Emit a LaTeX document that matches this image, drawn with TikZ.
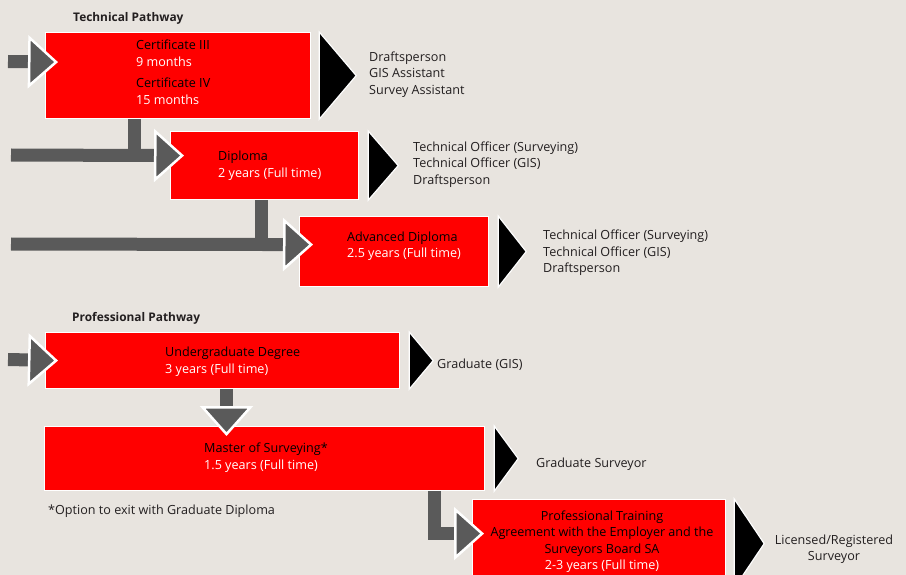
\documentclass[tikz,border=0pt]{standalone}
\usepackage{fontspec}
\setmainfont{Open Sans}
\usetikzlibrary{arrows.meta,positioning}
\definecolor{paper}{HTML}{E8E4DF}
\definecolor{pathred}{HTML}{FF0000}
\definecolor{flowgray}{HTML}{5A5A5A}
\definecolor{ink}{HTML}{231F20}
\begin{document}
\begin{tikzpicture}[x=1pt, y=-1pt, font=\fontsize{12.6}{16.5}\selectfont, text=ink]
    \tikzstyle{course} = [rectangle, draw=white, line width=1.2pt, fill=pathred, anchor=north west, inner sep=0pt]
    \tikzstyle{coursetext} = [anchor=west, align=left, inner sep=0pt, text=black]
    \tikzstyle{outcome} = [anchor=west, align=left, inner sep=0pt]
    \tikzstyle{heading} = [anchor=west, inner sep=0pt, font=\fontsize{11.9}{14}\selectfont\bfseries]
    \tikzstyle{exitmark} = [fill=black, draw=white, line width=1.2pt]
    \tikzstyle{shaft} = [draw=flowgray, line width=13pt]
    \tikzstyle{flow} = [shaft, -{Triangle[length=30pt 0 0, width=53pt 0 0, fill=flowgray, color=white, line width=2.5pt 0 0]}]

    \fill[paper] (0,0) rectangle (906,575);
    \useasboundingbox (0,0) rectangle (906,575);

    % Technical pathway
    \node [heading] (tech head) at (73,18) {Technical Pathway};
    \node [course, minimum width=265pt, minimum height=86pt] (cert) at (45,32) {};
    \node [course, minimum width=188pt, minimum height=68pt] (diploma) at (170,131) {};
    \node [course, minimum width=189pt, minimum height=70pt] (adv) at (299,216) {};

    \node [coursetext] (cert txt) at (136,72) {Certificate III\\\textcolor{white}{9 months}\\[5pt]Certificate IV\\\textcolor{white}{15 months}};
    \node [coursetext] (diploma txt) at (218,165.5) {Diploma\\\textcolor{white}{2 years (Full time)}};
    \node [coursetext] (adv txt) at (347,246) {Advanced Diploma\\\textcolor{white}{2.5 years (Full time)}};

    % Professional pathway
    \node [heading] (prof head) at (72,318) {Professional Pathway};
    \node [course, minimum width=354pt, minimum height=56pt] (degree) at (45,332) {};
    \node [course, minimum width=440pt, minimum height=64pt] (master) at (44,426) {};
    \node [course, minimum width=253pt, minimum height=88pt] (training) at (472,499) {};

    \node [coursetext] (degree txt) at (165,361.5) {Undergraduate Degree\\\textcolor{white}{3 years (Full time)}};
    \node [coursetext] (master txt) at (204,457.5) {Master of Surveying*\\\textcolor{white}{1.5 years (Full time)}};
    \node [coursetext, anchor=center, align=center] (training txt) at (602,541.5) {Professional Training\\Agreement with the Employer and the\\Surveyors Board SA\\\textcolor{white}{2-3 years (Full time)}};
    \node [outcome] (note) at (48,511) {*Option to exit with Graduate Diploma};

    % Exit markers
    \draw [exitmark] ([xshift=8pt]cert.north east) -- ([xshift=45pt]cert.east) -- ([xshift=8pt]cert.south east) -- cycle;
    \draw [exitmark] ([xshift=9pt]diploma.north east) -- ([xshift=39pt]diploma.east) -- ([xshift=9pt]diploma.south east) -- cycle;
    \draw [exitmark] ([xshift=9pt]adv.north east) -- ([xshift=37pt]adv.east) -- ([xshift=9pt]adv.south east) -- cycle;
    \draw [exitmark] ([xshift=9pt]degree.north east) -- ([xshift=33pt]degree.east) -- ([xshift=9pt]degree.south east) -- cycle;
    \draw [exitmark] ([xshift=9pt]master.north east) -- ([xshift=33pt]master.east) -- ([xshift=9pt]master.south east) -- cycle;
    \draw [exitmark] ([xshift=8pt]training.north east) -- ([xshift=38pt]training.east) -- ([xshift=8pt]training.south east) -- cycle;

    % Outcomes
    \node [outcome] (cert jobs) at (369,74.5) {Draftsperson\\GIS Assistant\\Survey Assistant};
    \node [outcome] (diploma jobs) at (413,164.5) {Technical Officer (Surveying)\\Technical Officer (GIS)\\Draftsperson};
    \node [outcome] (adv jobs) at (543,253) {Technical Officer (Surveying)\\Technical Officer (GIS)\\Draftsperson};
    \node [outcome] (degree jobs) at (437,365) {Graduate (GIS)};
    \node [outcome] (master jobs) at (536,464) {Graduate Surveyor};
    \node [outcome, anchor=center, align=center] (training jobs) at (834,549) {Licensed/Registered\\Surveyor};

    % Entry points
    \coordinate (tech in) at (8,61.5);
    \coordinate (dip in) at (11,155);
    \coordinate (adv in) at (11,244);
    \coordinate (prof in) at (8,359.5);
    \coordinate (cert drop) at ([xshift=89pt]cert.south west);
    \coordinate (dip drop) at ([xshift=91.5pt]diploma.south west);
    \coordinate (degree drop) at ([xshift=181.5pt]degree.south west);
    \coordinate (master drop) at ([xshift=390pt]master.south west);

    % Connections
    \draw [flow] (tech in) -- ([xshift=13pt,yshift=13.5pt]cert.west);
    \draw [shaft] (cert drop) -- (cert drop |- dip in);
    \draw [flow] (dip in) -- ([xshift=14pt,yshift=10pt]diploma.west);
    \draw [shaft] (dip drop) -- (dip drop |- adv in);
    \draw [flow] (adv in) -- ([xshift=14pt,yshift=7pt]adv.west);

    \draw [flow] (prof in) -- ([xshift=13pt]degree.west);
    \draw [flow] (degree drop) -- ([xshift=182.5pt,yshift=-10pt]master.north west);
    \draw [flow] (master drop) |- ([xshift=12pt,yshift=10pt]training.west);
\end{tikzpicture}
\end{document}
